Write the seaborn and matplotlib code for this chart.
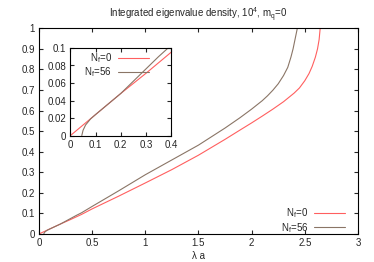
import numpy as np
import pandas as pd
import matplotlib
matplotlib.use("Agg")
import matplotlib.pyplot as plt
import seaborn as sns

# ── Data ───────────────────────────────────────────────────────────────────────
nf0_x = [0, 0.1, 0.2, 0.3, 0.4, 0.5, 0.75, 1.0, 1.25, 1.5, 1.75, 1.89, 2.0,
         2.1, 2.2, 2.3, 2.4, 2.45, 2.5, 2.54, 2.57, 2.6, 2.62, 2.635, 2.645]
nf0_y = [0, 0.024, 0.048, 0.071, 0.095, 0.122, 0.184, 0.248, 0.313, 0.383,
         0.46, 0.505, 0.54, 0.573, 0.607, 0.643, 0.685, 0.71, 0.745, 0.78,
         0.815, 0.86, 0.90, 0.945, 1.0]

nf56_x = [0.045, 0.05, 0.06, 0.08, 0.1, 0.15, 0.2, 0.25, 0.3, 0.35, 0.4, 0.5,
          0.75, 1.0, 1.25, 1.5, 1.75, 1.89, 2.0, 2.1, 2.15, 2.2, 2.25, 2.3,
          2.34, 2.37, 2.39, 2.41, 2.42, 2.43]
nf56_y = [0, 0.006, 0.012, 0.019, 0.024, 0.036, 0.048, 0.062, 0.076, 0.090,
          0.103, 0.134, 0.21, 0.288, 0.36, 0.432, 0.515, 0.565, 0.607, 0.648,
          0.672, 0.699, 0.73, 0.77, 0.81, 0.86, 0.90, 0.95, 0.975, 1.0]

labels = ["N$_f$=0", "N$_f$=56"]
colors = ["#ff5f5f", "#8a7566"]

df = pd.concat([
    pd.DataFrame({"x": nf0_x, "y": nf0_y, "series": labels[0]}),
    pd.DataFrame({"x": nf56_x, "y": nf56_y, "series": labels[1]}),
])

# ── Style ──────────────────────────────────────────────────────────────────────
sns.set_style("ticks")
plt.rcParams["font.family"] = ["Liberation Sans", "DejaVu Sans"]
plt.rcParams["mathtext.fontset"] = "custom"
plt.rcParams["mathtext.rm"] = "Liberation Sans"
plt.rcParams["mathtext.it"] = "Liberation Sans"
plt.rcParams["font.size"] = 7
plt.rcParams["xtick.direction"] = "in"
plt.rcParams["ytick.direction"] = "in"
plt.rcParams["xtick.top"] = True
plt.rcParams["ytick.right"] = True
plt.rcParams["xtick.major.size"] = 3
plt.rcParams["ytick.major.size"] = 3
plt.rcParams["axes.linewidth"] = 0.8
plt.rcParams["axes.edgecolor"] = "black"

fig = plt.figure(figsize=(3.74, 2.62), dpi=100)
ax = fig.add_axes([0.1043, 0.107, 0.8527, 0.785])

sns.lineplot(data=df, x="x", y="y", hue="series", palette=colors,
             estimator=None, sort=False, lw=0.8, ax=ax)
ax.set_xlim(0, 3)
ax.set_ylim(0, 1)
ax.set_xticks(np.arange(0, 3.01, 0.5))
ax.set_yticks(np.arange(0, 1.01, 0.1))
ax.xaxis.set_major_formatter(matplotlib.ticker.FormatStrFormatter("%g"))
ax.yaxis.set_major_formatter(matplotlib.ticker.FormatStrFormatter("%g"))
ax.tick_params(labelsize=7, pad=3)
ax.set_xlabel("λ a", fontsize=7, labelpad=2)
ax.set_ylabel("")
ax.set_title("Integrated eigenvalue density, 10$^4$, m$_q$=0", fontsize=7, pad=7)
ax.legend(loc="lower right", frameon=False, markerfirst=False, fontsize=7,
          handlelength=3.2, handletextpad=0.6, labelspacing=0.05,
          borderaxespad=0.6, bbox_to_anchor=(0.99, -0.05))

# ── Inset ──────────────────────────────────────────────────────────────────────
ins = fig.add_axes([0.1885, 0.4828, 0.2687, 0.334])
sns.lineplot(data=df, x="x", y="y", hue="series", palette=colors,
             estimator=None, sort=False, lw=0.8, ax=ins)
ins.set_xlim(0, 0.4)
ins.set_ylim(0, 0.1)
ins.set_xticks(np.arange(0, 0.41, 0.1))
ins.set_yticks(np.arange(0, 0.101, 0.02))
ins.xaxis.set_major_formatter(matplotlib.ticker.FormatStrFormatter("%g"))
ins.yaxis.set_major_formatter(matplotlib.ticker.FormatStrFormatter("%g"))
ins.tick_params(labelsize=7, pad=3)
ins.set_xlabel("")
ins.set_ylabel("")
ins.legend(loc="upper left", frameon=False, markerfirst=False, fontsize=7,
           handlelength=3.2, handletextpad=0.6, labelspacing=0.05,
           borderaxespad=0.1, bbox_to_anchor=(0.09, 1.02))

fig.savefig("out.png", dpi=100)
